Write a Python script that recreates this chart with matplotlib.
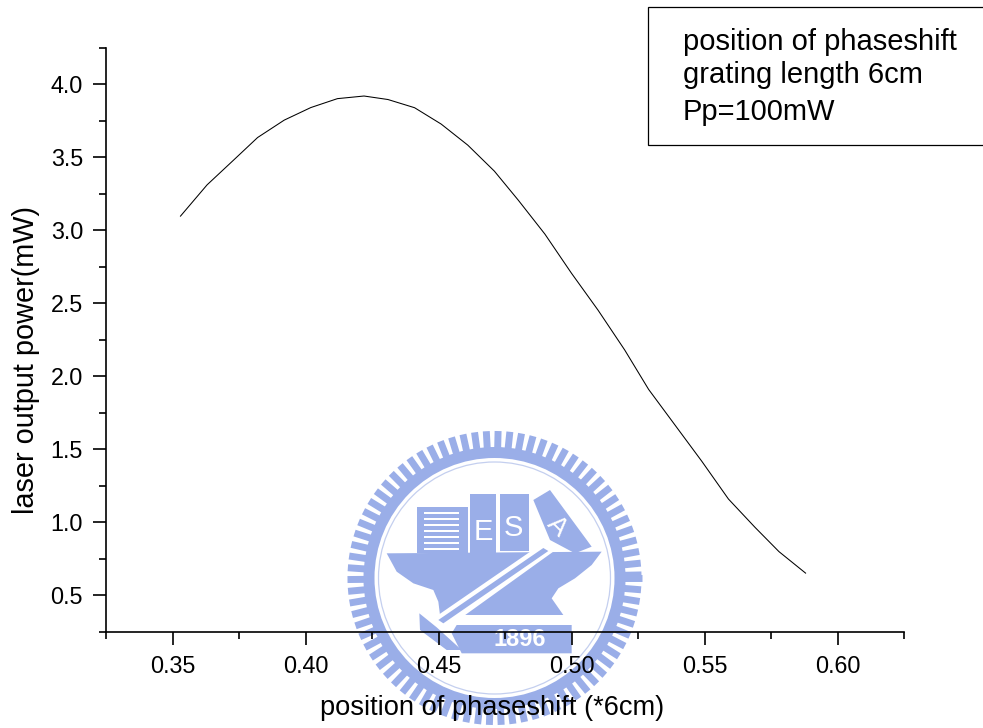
import numpy as np
import matplotlib
matplotlib.use("Agg")
import matplotlib.pyplot as plt
from matplotlib.patches import Polygon, Rectangle, Circle
from matplotlib.ticker import MultipleLocator, FormatStrFormatter

plt.rcParams['font.family'] = ['Liberation Sans', 'DejaVu Sans']

position = [0.353, 0.363, 0.373, 0.382, 0.392, 0.402, 0.412, 0.422, 0.431, 0.441,
            0.451, 0.461, 0.471, 0.480, 0.490, 0.500, 0.510, 0.520, 0.529, 0.539,
            0.549, 0.559, 0.569, 0.578, 0.588]
power = [3.096, 3.31, 3.48, 3.634, 3.753, 3.839, 3.90, 3.918, 3.894, 3.838,
         3.726, 3.582, 3.404, 3.205, 2.973, 2.705, 2.452, 2.18, 1.91, 1.664,
         1.418, 1.16, 0.966, 0.80, 0.653]
x_label = "position of phaseshift (*6cm)"
y_label = "laser output power(mW)"
box_lines = ["position of phaseshift", "grating length 6cm", "Pp=100mW"]

W, H = 983, 728
fig = plt.figure(figsize=(W / 100, H / 100), dpi=100)

# Watermark layer in pixel coordinates
bg = fig.add_axes([0, 0, 1, 1], zorder=0)
bg.set_xlim(0, W); bg.set_ylim(H, 0); bg.axis('off')
BLUE = '#9AAEE8'
cx, cy = 494.5, 578
def Z(pts):
    return [(330 + a / 3, 420 + b / 3) for a, b in pts]
def poly(pts, c=BLUE):
    bg.add_patch(Polygon(Z(pts), closed=True, fc=c, ec='none'))
for a in np.arange(0, 360, 4.6):
    t = np.deg2rad(a)
    bg.plot([cx + 125 * np.cos(t), cx + 147 * np.cos(t)],
            [cy + 125 * np.sin(t), cy + 147 * np.sin(t)],
            color=BLUE, lw=5.0, solid_capstyle='butt')
bg.add_patch(Circle((cx, cy), 131, fc=BLUE, ec='none'))
bg.add_patch(Circle((cx, cy), 120, fc='white', ec='none'))
bg.add_patch(Circle((cx, cy), 116, fc='none', ec='#C4CFEF', lw=0.9))
poly([(170, 400), (815, 395), (785, 435), (735, 475), (685, 505), (665, 535), (700, 585),
      (330, 585), (325, 545), (310, 510), (250, 490), (200, 455)])
poly([(260, 262), (415, 262), (415, 398), (260, 398)])
for yy in range(275, 392, 18):
    poly([(282, yy), (388, yy), (388, yy + 8), (282, yy + 8)], 'white')
poly([(420, 222), (497, 222), (497, 398), (420, 398)])
poly([(510, 222), (597, 222), (597, 392), (510, 392)])
poly([(610, 240), (660, 210), (785, 380), (735, 400), (660, 360)])
poly([(640, 368), (674, 392), (350, 625), (310, 595)], 'white')
poly([(640, 384), (655, 393), (340, 610), (325, 600)])
poly([(268, 580), (320, 622), (395, 690), (350, 690), (270, 630)])
poly([(380, 615), (725, 615), (725, 700), (395, 700), (365, 640)])
tk = dict(ha='center', va='center', color='white')
bg.text(330 + 460 / 3, 420 + 335 / 3, 'E', fontsize=21, **tk)
bg.text(330 + 550 / 3, 420 + 325 / 3, 'S', fontsize=21, **tk)
bg.text(330 + 680 / 3, 420 + 320 / 3, 'A', fontsize=19, rotation=-45, **tk)
bg.text(330 + 570 / 3, 420 + 658 / 3, '1896', fontsize=17, fontweight='bold', **tk)

# Main axes
left, right, top, bottom = 106, 904, 47.5, 632
ax = fig.add_axes([left / W, 1 - bottom / H, (right - left) / W, (bottom - top) / H], zorder=1)
ax.patch.set_alpha(0)
ax.plot(position, power, color='black', lw=0.75)
ax.set_xlim(0.325, 0.625)
ax.set_ylim(0.25, 4.25)
for s in ('top', 'right'):
    ax.spines[s].set_visible(False)
for s in ('left', 'bottom'):
    ax.spines[s].set_linewidth(1.2)
ax.xaxis.set_major_locator(MultipleLocator(0.05))
ax.xaxis.set_minor_locator(MultipleLocator(0.025))
ax.yaxis.set_major_locator(MultipleLocator(0.5))
ax.yaxis.set_minor_locator(MultipleLocator(0.25))
ax.xaxis.set_major_formatter(FormatStrFormatter('%.2f'))
ax.yaxis.set_major_formatter(FormatStrFormatter('%.1f'))
ax.tick_params(which='major', length=9.5, width=1.2, labelsize=16.8, pad=7)
ax.tick_params(which='minor', length=5, width=1.2)
fig.text(492 / W, 1 - 708 / H, x_label, fontsize=19.6, ha='center', va='center')
fig.text(26 / W, 1 - 360 / H, y_label, fontsize=20.8, ha='center', va='center', rotation=90)

# Annotation box
fig.add_artist(Rectangle((648 / W, 1 - 144.5 / H), (W - 648 + 5) / W, (144.5 - 7) / H,
                         transform=fig.transFigure, fc='white', ec='black', lw=0.9))
for line, yp in zip(box_lines, [42, 75, 112]):
    fig.text(683 / W, 1 - yp / H, line, fontsize=21, ha='left', va='center')

fig.savefig('out.png', dpi=100)
